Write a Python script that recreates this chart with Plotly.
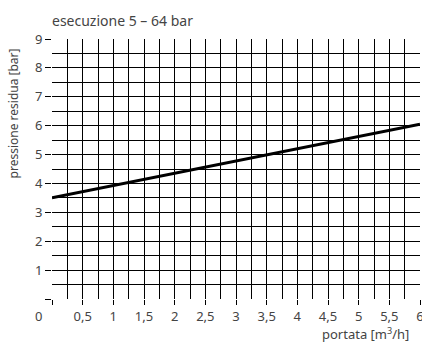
import plotly.graph_objects as go

title_text = "esecuzione 5 – 64 bar"
x_label = "portata [m<sup>3</sup>/h]"
y_label = "pressione residua [bar]"

flow = [0.0, 6.0]
pressure = [3.5, 6.05]

x_tickvals = [0, 0.5, 1, 1.5, 2, 2.5, 3, 3.5, 4, 4.5, 5, 5.5, 6]
x_ticktext = ["", "0,5", "1", "1,5", "2", "2,5", "3", "3,5", "4", "4,5", "5", "5,5", "6"]
y_tickvals = [0, 1, 2, 3, 4, 5, 6, 7, 8, 9]
y_ticktext = ["", "1", "2", "3", "4", "5", "6", "7", "8", "9"]

FONT = "Noto Sans"
TXT = "#444444"

fig = go.Figure()
fig.add_trace(go.Scatter(x=flow, y=pressure, mode="lines",
                         line=dict(color="black", width=3), showlegend=False))

fig.update_layout(
    width=422, height=342,
    margin=dict(l=52, r=2, t=39, b=43),
    paper_bgcolor="white", plot_bgcolor="white",
    font=dict(family=FONT, size=12, color=TXT),
    xaxis=dict(range=[0, 6], tickmode="array", tickvals=x_tickvals, ticktext=x_ticktext,
               showgrid=True, gridcolor="black", gridwidth=1,
               ticks="outside", ticklen=5, tickcolor="black", tickwidth=1,
               zeroline=False, showline=False, automargin=False,
               ticklabeloverflow="allow",
               minor=dict(dtick=0.25, tick0=0, showgrid=True, gridcolor="black", gridwidth=1, ticks=""),
               tickfont=dict(size=13, color=TXT)),
    yaxis=dict(range=[0, 9], tickmode="array", tickvals=y_tickvals, ticktext=y_ticktext,
               showgrid=True, gridcolor="black", gridwidth=1,
               ticks="outside", ticklen=6, tickcolor="black", tickwidth=1,
               zeroline=False, showline=False, automargin=False,
               minor=dict(dtick=0.5, tick0=0, showgrid=True, gridcolor="black", gridwidth=1, ticks=""),
               tickfont=dict(size=13, color=TXT)),
    annotations=[
        dict(text=title_text, xref="paper", yref="paper", x=-0.005, y=1.073,
             xanchor="left", yanchor="middle", showarrow=False, font=dict(size=14, color=TXT)),
        dict(text=x_label, xref="paper", yref="paper", x=0.975, y=-0.133,
             xanchor="right", yanchor="middle", showarrow=False, font=dict(size=13, color=TXT)),
        dict(text=y_label, xref="paper", yref="paper", x=-0.105, y=0.715, textangle=-90,
             xanchor="center", yanchor="middle", showarrow=False, font=dict(size=12, color=TXT)),
        dict(text="0", xref="paper", yref="paper", x=-0.038, y=-0.065,
             xanchor="center", yanchor="middle", showarrow=False, font=dict(size=13, color=TXT)),
    ],
)

fig.write_html("out.html", config={"displayModeBar": False},
               post_script="document.body.style.margin='0';document.body.style.padding='0';")
